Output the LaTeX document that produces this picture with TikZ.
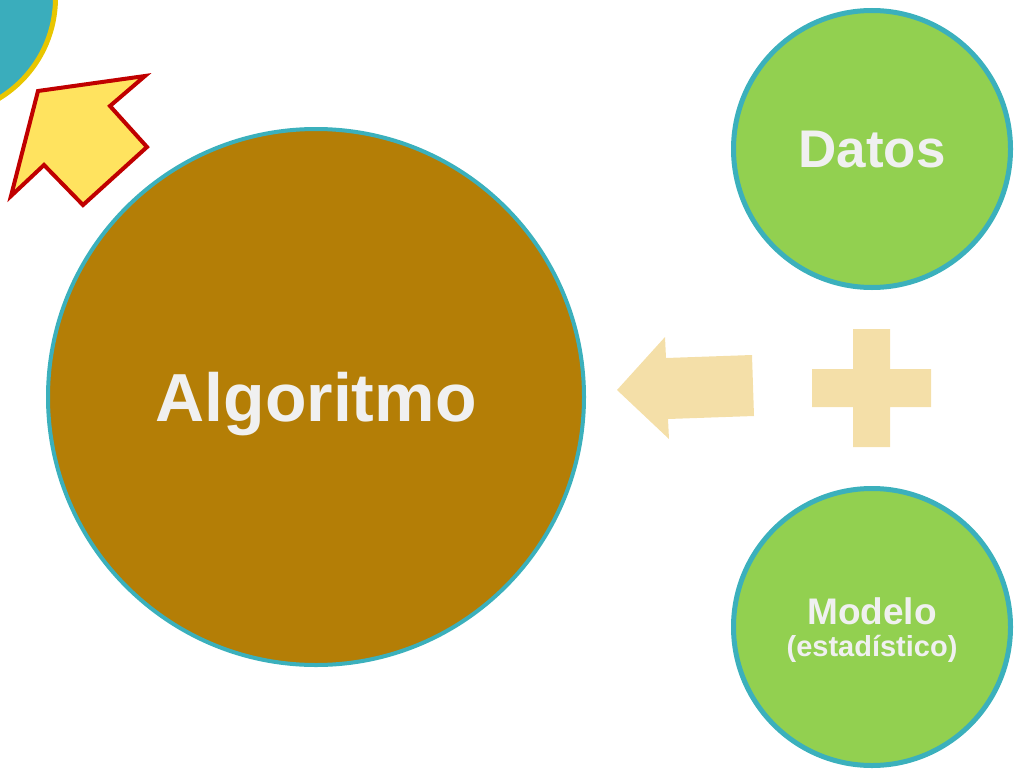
\documentclass[tikz,border=0pt]{standalone}
\usepackage{fontspec}
\setmainfont{Liberation Sans}
\usetikzlibrary{positioning}

\definecolor{tealring}{RGB}{59,176,188}
\definecolor{tealfill}{RGB}{58,173,188}
\definecolor{goldring}{RGB}{232,198,0}
\definecolor{brownfill}{RGB}{180,126,6}
\definecolor{greenfill}{RGB}{146,208,80}
\definecolor{lighttext}{RGB}{240,240,240}
\definecolor{beige}{RGB}{244,223,168}
\definecolor{sunyellow}{RGB}{255,227,95}
\definecolor{darkred}{RGB}{192,0,0}

\begin{document}
\begin{tikzpicture}[x=1pt, y=-1pt]

\tikzstyle{ball}=[circle, draw=tealring, inner sep=0pt, text=lighttext, font=\bfseries, text depth=0pt]
\tikzstyle{bigball}=[ball, fill=brownfill, line width=4pt, minimum size=536pt]
\tikzstyle{smallball}=[ball, fill=greenfill, line width=5pt, minimum size=277pt]
\tikzstyle{blockarrow}=[fill=beige]

\useasboundingbox (0,0) rectangle (1019,768);

\node (T) [circle, fill=tealfill, draw=goldring, line width=5pt, minimum size=235pt] at (-62,-2) {};

\node (A) [bigball] at (316,397) {\fontsize{68}{70}\selectfont Algoritmo};

\node (D) [smallball] at (872,149) {\fontsize{53}{56}\selectfont Datos};

\node (M) [smallball, align=center, font=\bfseries\fontsize{29}{32}\selectfont] at (872,627) {\fontsize{37}{32}\selectfont Modelo\\(estadístico)};

% flecha hacia el algoritmo
\fill [blockarrow] (617,390) -- (665,337) -- (666,358) -- (752,355) -- (754,416) -- (668,419) -- (669,439) -- cycle;

% signo mas
\fill [blockarrow] (853,329) -- (890,329) -- (890,369) -- (931,369) -- (931,407) -- (890,407) -- (890,447) -- (853,447) -- (853,407) -- (812,407) -- (812,369) -- (853,369) -- cycle;

% flecha amarilla
\filldraw [fill=sunyellow, draw=darkred, line width=4pt, miter limit=10] (38,91) -- (145,76) -- (110,106) -- (147,147) -- (83,205) -- (44,165) -- (11,196) -- cycle;

\end{tikzpicture}
\end{document}
